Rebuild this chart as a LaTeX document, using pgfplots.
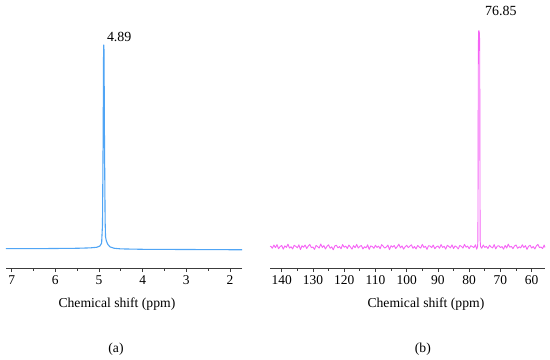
\documentclass[border=0pt]{standalone}
\usepackage{fontspec}
\setmainfont{Liberation Serif}
\usepackage{pgfplots}
\pgfplotsset{compat=1.18}
\usepackage{pgfplotstable}
\definecolor{hblue}{RGB}{80,165,245}
\definecolor{cpink}{RGB}{245,100,245}
\definecolor{axgray}{RGB}{60,60,60}

\pgfplotstableread{
x y
7.13 0.3
6.5 0.3
6.0 0.4
5.5 0.5
5.2 0.7
5.05 1.0
4.98 1.6
4.94 3
4.92 12
4.905 55
4.895 98
4.89 100
4.885 97
4.875 55
4.86 14
4.85 6
4.83 4
4.80 2.5
4.75 1.2
4.65 0.5
4.5 0.2
4.0 0.0
3.0 -0.1
2.0 -0.2
1.725 -0.2
}\protondata

\pgfplotstableread{
x y
143.7 0.2
143.5 0.4
143.0 -0.6
142.5 0.9
142.0 -0.3
141.5 1.1
141.0 -0.8
140.5 0.2
140.0 0.7
139.5 -1.0
139.0 0.5
138.5 -0.2
138.0 1.3
137.5 -0.5
137.0 0.1
136.5 -0.9
136.0 0.8
135.5 0.3
135.0 -0.4
134.5 1.0
134.0 -1.2
133.5 0.6
133.0 -0.1
132.5 0.9
132.0 -0.7
131.5 0.4
131.0 1.2
130.5 -0.3
130.0 0.0
129.5 -1.1
129.0 0.7
128.5 0.2
128.0 -0.5
127.5 1.4
127.0 -0.2
126.5 0.6
126.0 -0.9
125.5 0.3
125.0 1.0
124.5 -0.6
124.0 0.1
123.5 -1.3
123.0 0.5
122.5 0.8
122.0 -0.4
121.5 0.2
121.0 -0.8
120.5 1.1
120.0 -0.1
119.5 0.4
119.0 -0.7
118.5 0.9
118.0 0.0
117.5 -1.0
117.0 0.6
116.5 -0.3
116.0 1.2
115.5 -0.5
115.0 0.3
114.5 0.7
114.0 -0.9
113.5 0.1
113.0 -0.4
112.5 1.0
112.0 -1.1
111.5 0.5
111.0 0.2
110.5 -0.6
110.0 0.8
109.5 -0.2
109.0 0.4
108.5 -0.8
108.0 1.1
107.5 0.3
107.0 -0.5
106.5 0.0
106.0 0.9
105.5 -1.2
105.0 0.6
104.5 -0.1
104.0 0.7
103.5 -0.7
103.0 0.2
102.5 1.3
102.0 -0.4
101.5 0.5
101.0 -1.0
100.5 0.1
100.0 0.8
99.5 -0.3
99.0 0.4
98.5 1.0
98.0 -0.6
97.5 0.2
97.0 -0.9
96.5 0.7
96.0 0.0
95.5 -0.5
95.0 1.2
94.5 -0.2
94.0 0.3
93.5 -1.1
93.0 0.6
92.5 0.4
92.0 -0.3
91.5 0.9
91.0 -0.8
90.5 0.1
90.0 0.5
89.5 -0.6
89.0 1.1
88.5 -0.2
88.0 0.3
87.5 -1.0
87.0 0.8
86.5 0.2
86.0 -0.4
85.5 1.0
85.0 -0.7
84.5 0.5
84.0 0.0
83.5 -0.9
83.0 0.7
82.5 0.3
82.0 -0.5
81.5 1.2
81.0 -0.1
80.5 0.4
80.0 -0.8
79.5 0.6
79.0 0.2
78.5 -0.3
78.0 1.0
77.6 -1.0
77.3 0.3
77.22 3
77.17 20
77.12 60
77.07 92
77.0 99.5
76.9 100
76.8 99.3
76.7 99
76.63 90
76.58 60
76.53 20
76.48 3
76.38 0.3
76.0 -0.6
75.5 0.9
75.0 -0.2
74.5 0.3
74.0 -0.7
73.5 0.8
73.0 0.0
72.5 -0.4
72.0 1.1
71.5 -0.9
71.0 0.4
70.5 0.6
70.0 -0.3
69.5 0.2
69.0 -1.0
68.5 0.7
68.0 -0.5
67.5 1.3
67.0 -0.1
66.5 0.3
66.0 -0.8
65.5 0.5
65.0 0.9
64.5 -0.6
64.0 0.1
63.5 -0.4
63.0 1.0
62.5 -0.2
62.0 0.6
61.5 -1.1
61.0 0.3
60.5 0.8
60.0 -0.5
59.5 0.2
59.0 -0.9
58.5 0.5
58.0 1.2
57.5 -0.3
57.0 0.0
56.5 -0.7
56.0 0.9
55.74 -0.2
}\carbondata

\begin{document}
\begin{tikzpicture}[font=\fontsize{13.7}{16}\selectfont]
\useasboundingbox (0,0) rectangle (550bp,360bp);
\pgfplotsset{
  myaxis/.style={
    scale only axis,
    height=248bp,
    anchor=south west,
    axis x line=bottom,
    axis y line=none,
    axis line style={-, draw=axgray, line width=0.9pt},
    x dir=reverse,
    clip=false,
    tick align=outside,
    major tick length=4bp,
    minor tick length=2.5bp,
    minor x tick num=1,
    every tick/.style={axgray, line width=0.8pt},
    /pgf/number format/assume math mode=true,
    xticklabel style={font=\fontsize{13.5}{15}\selectfont, text=black},
  }
}
\begin{axis}[myaxis,
  at={(6bp,92bp)}, width=236bp,
  xmin=1.725, xmax=7.13, ymin=-9.15, ymax=112.2,
  xtick={2,3,4,5,6,7},
]
\addplot[hblue, line width=1.1pt, line join=round] table[x=x,y=y] {\protondata};
\node[anchor=base west, inner sep=0pt, xshift=3bp, yshift=3bp, font=\fontsize{14}{16}\selectfont] at (axis cs:4.89,100) {4.89};
\node[anchor=base, inner sep=0pt, yshift=-39bp] at (rel axis cs:0.47,0) {Chemical shift (ppm)};
\node[anchor=base, inner sep=0pt, yshift=-84bp] at (rel axis cs:0.466,0) {(a)};
\end{axis}
\begin{axis}[myaxis,
  at={(270bp,92bp)}, width=275bp,
  xmin=55.74, xmax=143.74, ymin=-9.71, ymax=104.9,
  xtick={60,70,...,140},
]
\addplot[cpink, line width=0.9pt, line join=round] table[x=x,y=y] {\carbondata};
\node[anchor=base west, inner sep=0pt, xshift=6bp, yshift=15bp, font=\fontsize{14}{16}\selectfont] at (axis cs:76.85,100) {76.85};
\node[anchor=base, inner sep=0pt, yshift=-39bp] at (rel axis cs:0.567,0) {Chemical shift (ppm)};
\node[anchor=base, inner sep=0pt, yshift=-84bp] at (rel axis cs:0.556,0) {(b)};
\end{axis}
\end{tikzpicture}
\end{document}
